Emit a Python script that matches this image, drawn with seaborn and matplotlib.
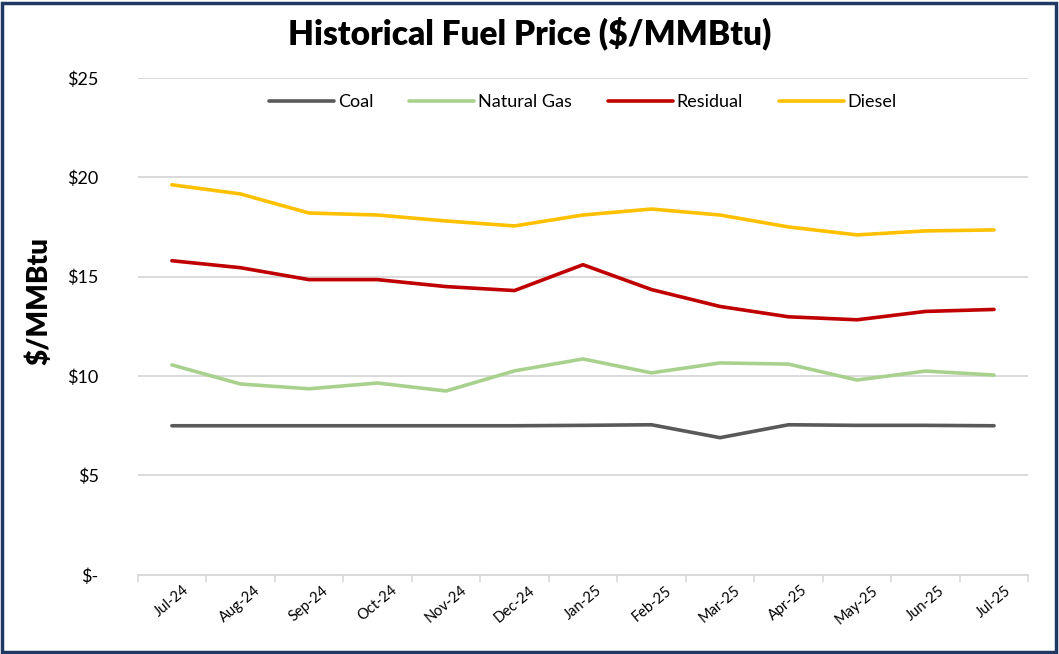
import seaborn as sns
import pandas as pd
import matplotlib.pyplot as plt
from matplotlib.patches import Rectangle

months = ['Jul-24', 'Aug-24', 'Sep-24', 'Oct-24', 'Nov-24', 'Dec-24', 'Jan-25',
          'Feb-25', 'Mar-25', 'Apr-25', 'May-25', 'Jun-25', 'Jul-25']
coal = [7.50, 7.50, 7.50, 7.50, 7.50, 7.50, 7.52, 7.55, 6.90, 7.55, 7.52, 7.52, 7.50]
natural_gas = [10.56, 9.60, 9.36, 9.65, 9.25, 10.26, 10.86, 10.16, 10.66, 10.60, 9.80, 10.25, 10.05]
residual = [15.80, 15.45, 14.85, 14.85, 14.50, 14.30, 15.60, 14.35, 13.50, 12.98, 12.83, 13.25, 13.35]
diesel = [19.62, 19.16, 18.20, 18.10, 17.80, 17.55, 18.10, 18.40, 18.10, 17.50, 17.10, 17.30, 17.35]

fuels = ['Coal', 'Natural Gas', 'Residual', 'Diesel']
colors = ['#595959', '#A9D18E', '#C00000', '#FFC000']
yticks = [0, 5, 10, 15, 20, 25]
ytick_labels = ['$-', '$5', '$10', '$15', '$20', '$25']

df = pd.DataFrame({
    'month': months * 4,
    'price': coal + natural_gas + residual + diesel,
    'fuel': [f for f in fuels for _ in months],
})

sns.set_style('white')
plt.rcParams['font.family'] = ['Lato', 'DejaVu Sans']
plt.rcParams['text.color'] = 'black'
plt.rcParams['xtick.color'] = 'black'
plt.rcParams['ytick.color'] = 'black'
plt.rcParams['axes.labelcolor'] = 'black'

fig = plt.figure(figsize=(10.59, 6.54), dpi=100)
ax = fig.add_axes([0.130, 0.121, 0.841, 0.760])

sns.lineplot(data=df, x='month', y='price', hue='fuel', hue_order=fuels,
             palette=colors, sort=False, linewidth=2.6, ax=ax)

ax.set_xlim(-0.5, len(months) - 0.5)
ax.set_ylim(0, 25)
ax.set_yticks(yticks)
ax.set_yticklabels(ytick_labels, fontsize=13)
ax.yaxis.grid(True, color='#D9D9D9', linewidth=1.4)
ax.set_axisbelow(True)
for s in ['top', 'right', 'left']:
    ax.spines[s].set_visible(False)
ax.spines['bottom'].set_color('#D9D9D9')
ax.spines['bottom'].set_linewidth(1.4)
ax.tick_params(axis='y', length=0, pad=28)

ax.set_xticks(range(len(months)))
ax.set_xticklabels(months, rotation=40, fontsize=10.5, ha='center')
ax.set_xticks([i - 0.5 for i in range(len(months) + 1)], minor=True)
ax.tick_params(axis='x', which='major', length=0, pad=6)
ax.tick_params(axis='x', which='minor', length=5, color='#D9D9D9', width=1.2, bottom=True)

ax.set_xlabel('')
ax.set_ylabel('$/MMBtu', fontsize=20, fontweight='heavy')
ax.yaxis.set_label_coords(-0.096, 0.55)
fig.suptitle('Historical Fuel Price ($/MMBtu)', fontsize=24, fontweight='heavy', y=0.975)

ax.legend(loc='upper center', bbox_to_anchor=(0.5, 1.0), ncol=4, frameon=False,
          fontsize=13, handlelength=3.6, handletextpad=0.2, columnspacing=2.0)

fig.patches.append(Rectangle((0.002, 0.003), 0.995, 0.993, transform=fig.transFigure,
                             fill=False, edgecolor='#1F3864', linewidth=2.5))

plt.savefig('out.png', dpi=100)
